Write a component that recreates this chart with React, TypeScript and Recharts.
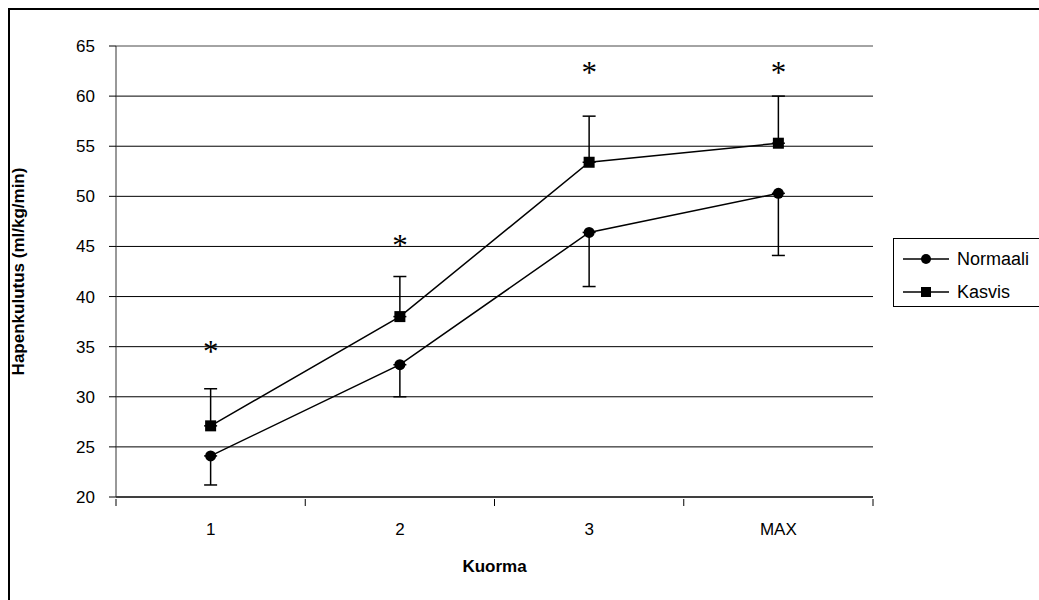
import React from 'react';
import {
  LineChart,
  Line,
  XAxis,
  YAxis,
  CartesianGrid,
  ErrorBar,
  ReferenceLine,
} from 'recharts';

const categories = ['1', '2', '3', 'MAX'];
const loadSteps = [1, 2, 3, 4];
const normaali = [24.1, 33.2, 46.4, 50.3];
const normaaliLow = [21.2, 30.0, 41.0, 44.1];
const kasvis = [27.1, 38.0, 53.4, 55.3];
const kasvisHigh = [30.8, 42.0, 58.0, 60.0];
const significance = [35.0, 45.5, 62.8, 62.8];
const yTicks = [20, 25, 30, 35, 40, 45, 50, 55, 60, 65];
const xTicks = [0.5, 1, 1.5, 2, 2.5, 3, 3.5, 4, 4.5];

const data = loadSteps.map((x, i) => ({
  x,
  normaali: normaali[i],
  kasvis: kasvis[i],
  normaaliErr: [normaali[i] - normaaliLow[i], 0],
  kasvisErr: [0, kasvisHigh[i] - kasvis[i]],
  star: significance[i],
}));

const FONT = '"Liberation Sans", Arial, sans-serif';

const XTick = (props: any) => {
  const { x, y, payload } = props;
  const v = payload.value;
  if (Number.isInteger(v)) {
    return (
      <text x={x} y={y + 36} textAnchor="middle" fontSize={17} fill="#000" fontFamily={FONT}>
        {categories[v - 1]}
      </text>
    );
  }
  return <line x1={x} y1={y} x2={x} y2={y + 7} stroke="#000" strokeWidth={1} />;
};

const SquareDot = (props: any) => {
  const { cx, cy, index } = props;
  return <rect key={`sq-${index}`} x={cx - 5.5} y={cy - 5.5} width={11} height={11} fill="#000" />;
};

const StarDot = (props: any) => {
  const { cx, cy, index } = props;
  return (
    <text
      key={`st-${index}`}
      x={cx}
      y={cy + 15}
      textAnchor="middle"
      fontSize={31}
      fill="#000"
      fontFamily='"Liberation Serif", "Times New Roman", serif'
    >
      *
    </text>
  );
};

const LegendIcon = ({ square }: { square: boolean }) => (
  <svg width={46} height={12} style={{ display: 'block' }}>
    <line x1={0} y1={6} x2={46} y2={6} stroke="#000" strokeWidth={1.5} />
    {square ? <rect x={18} y={1} width={10} height={10} fill="#000" /> : <circle cx={23} cy={6} r={5} fill="#000" />}
  </svg>
);

const legendItems = [
  { name: 'Normaali', square: false },
  { name: 'Kasvis', square: true },
];

export default function App() {
  return (
    <div
      style={{
        position: 'absolute',
        left: 8,
        top: 8,
        width: 1029,
        height: 590,
        borderTop: '2px solid #000',
        borderLeft: '2px solid #000',
        overflow: 'hidden',
        background: '#fff',
      }}
    >
      <LineChart
        width={1029}
        height={590}
        data={data}
        margin={{ top: 36, right: 166, left: 0, bottom: 13 }}
        style={{ fontFamily: FONT }}
      >
        <CartesianGrid vertical={false} stroke="#000" strokeWidth={1} />
        <ReferenceLine y={65} stroke="#c8c8c8" strokeWidth={1} />
        <XAxis
          type="number"
          dataKey="x"
          domain={[0.5, 4.5]}
          ticks={xTicks}
          interval={0}
          tickSize={0}
          tickLine={false}
          tick={<XTick />}
          axisLine={{ stroke: '#000' }}
          height={90}
          label={{
            content: ({ viewBox }: any) => (
              <text
                x={viewBox.x + viewBox.width / 2}
                y={viewBox.y + 75}
                textAnchor="middle"
                fontSize={17}
                fontWeight="bold"
                fill="#000"
                fontFamily={FONT}
              >
                Kuorma
              </text>
            ),
          }}
        />
        <YAxis
          domain={[20, 65]}
          ticks={yTicks}
          interval={0}
          width={106}
          tickSize={7}
          tickMargin={14}
          tick={{ fontSize: 17, fill: '#000', fontFamily: FONT }}
          tickLine={{ stroke: '#000' }}
          axisLine={{ stroke: '#333' }}
          label={{
            content: ({ viewBox }: any) => {
              const cx = viewBox.x + 8;
              const cy = viewBox.y + viewBox.height / 2;
              return (
                <text
                  x={cx}
                  y={cy}
                  transform={`rotate(-90 ${cx} ${cy})`}
                  textAnchor="middle"
                  dominantBaseline="central"
                  fontSize={17}
                  fontWeight="bold"
                  fill="#000"
                  fontFamily={FONT}
                >
                  Hapenkulutus (ml/kg/min)
                </text>
              );
            },
          }}
        />
        <Line
          dataKey="normaali"
          name="Normaali"
          stroke="#000"
          strokeWidth={1.5}
          dot={{ r: 5.5, fill: '#000', stroke: 'none' }}
          activeDot={false}
          isAnimationActive={false}
        >
          <ErrorBar dataKey="normaaliErr" width={6.5} stroke="#000" strokeWidth={1.5} direction="y" />
        </Line>
        <Line
          dataKey="kasvis"
          name="Kasvis"
          stroke="#000"
          strokeWidth={1.5}
          dot={<SquareDot />}
          activeDot={false}
          isAnimationActive={false}
        >
          <ErrorBar dataKey="kasvisErr" width={6.5} stroke="#000" strokeWidth={1.5} direction="y" />
        </Line>
        <Line
          dataKey="star"
          stroke="none"
          dot={<StarDot />}
          activeDot={false}
          legendType="none"
          isAnimationActive={false}
        />
      </LineChart>
      <div
        style={{
          position: 'absolute',
          left: 883,
          top: 228,
          width: 160,
          height: 69,
          border: '1px solid #000',
          borderRight: 'none',
          boxSizing: 'border-box',
          paddingLeft: 9,
          paddingTop: 7,
          fontFamily: FONT,
          fontSize: 18,
          color: '#000',
        }}
      >
        {legendItems.map((item) => (
          <div key={item.name} style={{ display: 'flex', alignItems: 'center', height: 26, marginBottom: 7 }}>
            <LegendIcon square={item.square} />
            <span style={{ marginLeft: 8 }}>{item.name}</span>
          </div>
        ))}
      </div>
    </div>
  );
}
